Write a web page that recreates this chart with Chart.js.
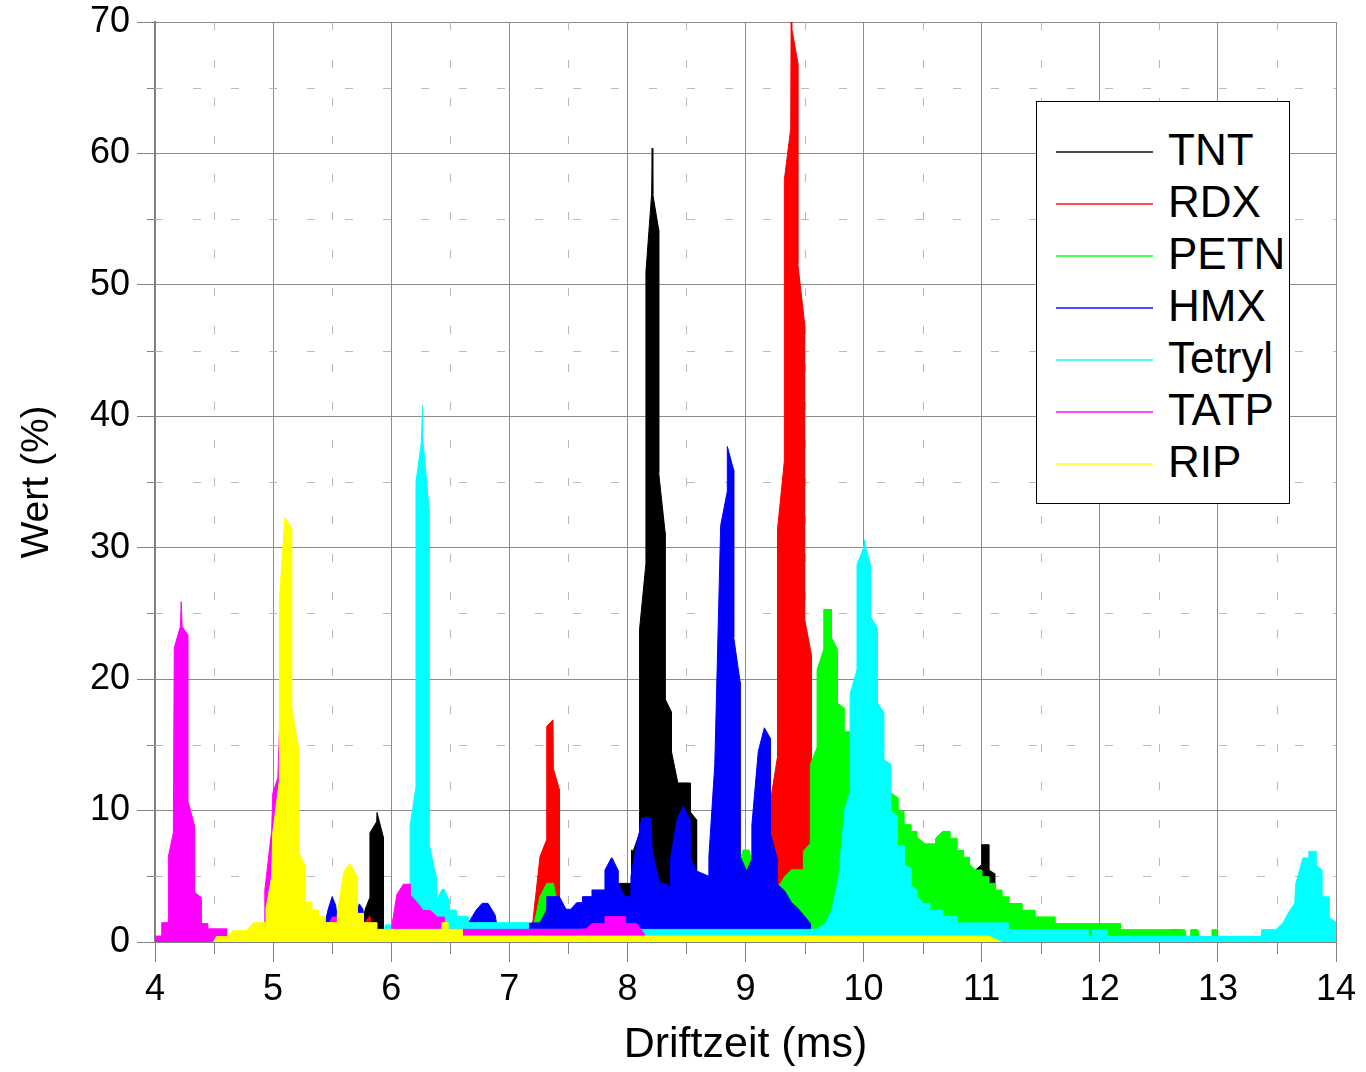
<!DOCTYPE html>
<html><head><meta charset="utf-8">
<script src="https://cdn.jsdelivr.net/npm/chart.js@4.4.1/dist/chart.umd.min.js"></script>
<style>
html,body{margin:0;padding:0;background:#fff;}
#wrap{position:relative;width:1366px;height:1072px;}
#legend{position:absolute;left:1036px;top:101px;width:254px;height:403px;box-sizing:border-box;border:1px solid #000;background:#fff;}
.sw{position:absolute;left:19px;width:97px;height:2px;opacity:0.7;}
.lb{position:absolute;left:131px;font-family:"Liberation Sans",Arial,sans-serif;font-size:44px;line-height:52px;color:#000;white-space:nowrap;}
</style></head><body>
<div id="wrap"><canvas id="c" width="1366" height="1072"></canvas><div id="legend"></div></div>
<script>
// ---- series names and colours ----
const names = ['TNT', 'RDX', 'PETN', 'HMX', 'Tetryl', 'TATP', 'RIP'];
const colors = ['#000000', '#ff0000', '#00ff00', '#0000ff', '#00ffff', '#ff00ff', '#ffff00'];

// ---- data (Driftzeit ms, Wert %) ----
const tntX = [5.72,5.78,5.82,5.82,5.877,5.88,5.933,5.933,5.98,7.85,7.9,8.035,8.035,8.049,8.103,8.103,8.157,8.157,8.205,8.21,8.215,8.265,8.265,8.319,8.319,8.373,8.373,8.427,8.532,8.532,8.586,8.586,8.7,9.0,10.9,10.947,11.0,11.0,11.06,11.06,11.11,11.11,11.15];
const tntY = [0,2.5,3.4,8.3,9.15,9.85,8.0,1.0,0.4,0.4,4.46,4.46,7.0,6.9,8.3,23.8,28.8,51.0,56.9,60.4,56.9,54.2,35.7,31.2,18.5,17.5,14.5,12.1,12.1,9.9,9.3,5.0,4.0,0.8,0.8,5.48,5.87,7.4,7.4,5.48,5.2,4.46,0];

const rdxX = [5.75,5.78,5.82,5.85,7.15,7.2,7.26,7.317,7.317,7.37,7.373,7.424,7.424,7.48,7.55,9.18,9.22,9.22,9.271,9.271,9.329,9.329,9.383,9.386,9.392,9.443,9.443,9.5,9.5,9.557,9.557,9.6,9.65,12.55,12.58,12.6,12.66,12.68];
const rdxY = [0,1.5,2.0,0,0,1.6,6.5,7.8,16.4,16.9,13.2,11.6,2.5,2.0,0.3,0.3,4.6,11.2,14.1,31.4,36.6,58.0,61.9,70,69.5,66.9,51.6,47.1,24.6,21.9,7.5,1.0,0.3,0.3,0,0.95,0.95,0];

const petnX = [7.15,7.2,7.26,7.317,7.373,7.43,7.5,8.9,8.95,8.98,9.03,9.08,9.15,9.3,9.334,9.39,9.49,9.49,9.549,9.549,9.606,9.606,9.663,9.663,9.726,9.726,9.777,9.777,9.834,9.834,9.886,9.95,10.1,10.2,10.23,10.29,10.29,10.34,10.34,10.4,10.4,10.45,10.45,10.52,10.61,10.61,10.67,10.73,10.73,10.79,10.79,10.845,10.845,10.895,10.895,10.947,11.0,11.0,11.06,11.06,11.117,11.117,11.17,11.17,11.23,11.23,11.34,11.34,11.45,11.45,11.62,11.62,12.175,12.175,12.72,12.74,12.77,12.77,12.83,12.85,12.95,12.95,12.99,13.0];
const petnY = [0,1.0,3.45,4.46,4.46,2.0,0.5,0.5,6.0,7.0,7.0,5.2,3.0,4.5,5.0,5.5,5.5,6.9,7.5,13.5,14.8,20.7,22.3,25.3,25.3,23.2,22.3,18.2,17.8,16.0,16.0,14.0,12.5,11.8,11.35,10.97,9.95,9.95,8.93,8.93,8.42,8.42,8.0,7.47,7.47,7.9,8.42,8.42,7.9,7.9,6.96,6.96,6.45,6.45,5.94,5.48,5.48,4.97,4.97,4.46,4.46,3.95,3.95,3.44,3.44,2.93,2.93,2.42,2.42,1.91,1.91,1.40,1.40,0.94,0.94,0,0,0.94,0.94,0,0,0.94,0.94,0];

const hmxX = [5.40,5.44,5.47,5.50,5.53,5.54,5.56,5.68,5.71,5.73,5.76,5.78,5.80,6.62,6.66,6.72,6.77,6.82,6.88,6.90,7.12,7.147,7.26,7.317,7.317,7.424,7.48,7.52,7.57,7.62,7.62,7.70,7.70,7.81,7.81,7.865,7.87,7.92,7.92,7.98,8.03,8.03,8.08,8.10,8.12,8.157,8.2,8.21,8.27,8.365,8.365,8.42,8.47,8.475,8.53,8.53,8.586,8.69,8.69,8.74,8.79,8.846,8.846,8.9,8.9,8.954,8.954,9.01,9.054,9.054,9.108,9.16,9.165,9.21,9.21,9.27,9.27,9.33,9.39,9.45,9.55,9.55,9.6];
const hmxY = [0,1.5,2.6,3.45,2.8,2.0,1.0,1.0,2.3,2.9,2.5,1.0,0.5,0.5,1.55,2.43,2.94,2.94,2.05,1.0,1.0,1.42,1.47,2.43,3.45,3.45,2.49,2.49,2.99,2.99,3.45,3.45,3.96,3.96,5.48,6.4,6.4,5.48,4.5,3.45,3.45,5.0,7.5,8.3,9.4,9.5,9.4,6.9,4.6,4.2,6.3,9.3,10.3,10.3,9.3,6.5,5.4,5.0,6.5,13.5,31.7,34.3,37.7,35.9,23.2,19.8,6.5,5.4,6.3,8.9,14.5,16.3,16.3,15.5,8.3,6.3,4.4,3.9,3.0,2.5,1.4,0.5,0];

const tetrylX = [5.93,5.95,6.14,6.16,6.16,6.21,6.21,6.255,6.265,6.27,6.32,6.32,6.38,6.38,6.43,6.45,6.49,6.49,6.55,6.55,6.65,6.65,7.16,7.16,9.6,9.675,9.73,9.79,9.84,9.886,9.886,9.944,9.944,10.0,10.01,10.02,10.057,10.057,10.114,10.114,10.17,10.17,10.23,10.23,10.286,10.286,10.343,10.343,10.4,10.4,10.45,10.45,10.51,10.56,10.56,10.67,10.67,10.79,10.79,11.225,11.225,11.9,11.9,11.94,11.94,12.06,12.06,13.37,13.37,13.49,13.55,13.61,13.65,13.66,13.72,13.77,13.77,13.83,13.83,13.88,13.88,13.94,13.94,14.0];
const tetrylY = [0,1.3,1.3,3.6,8.9,11.8,35.0,38.0,40.8,38.0,33.0,7.5,5.0,3.1,4.0,4.0,3.2,2.43,2.43,1.93,1.93,1.47,1.47,0.96,0.96,1.4,2.4,5.0,10.1,11.4,18.9,20.7,28.7,30.0,30.6,30.0,28.7,24.8,23.9,18.2,17.5,13.9,13.5,10.0,9.6,7.3,7.3,5.9,5.6,4.3,3.95,3.44,2.93,2.93,2.42,2.42,1.96,1.96,1.45,1.45,0.94,0.94,0.43,0.43,0.94,0.94,0.43,0.43,0.94,0.94,1.45,2.42,2.93,4.46,6.4,6.4,6.9,6.9,5.87,5.48,3.44,3.44,1.9,1.5];

const tatpX = [4.0,4.057,4.057,4.113,4.113,4.155,4.163,4.215,4.222,4.23,4.277,4.277,4.333,4.333,4.39,4.39,4.446,4.446,4.607,4.607,4.93,4.93,4.988,4.997,5.04,5.053,5.08,5.16,5.22,5.27,5.33,5.48,5.5,5.54,5.56,6.0,6.047,6.103,6.16,6.16,6.22,6.27,6.33,6.39,6.45,6.45,7.6,7.65,7.70,7.81,7.81,7.98,7.98,8.08,8.15,8.2];
const tatpY = [0.45,0.45,1.47,1.47,6.5,8.3,22.4,24.0,25.9,24.0,23.4,10.8,8.9,3.8,3.4,1.4,1.4,1.0,1.0,0,0,3.96,8.5,11.3,12.5,15.9,16.5,10,4,2,1.5,1.5,1.9,1.9,0.9,0.9,3.6,4.4,4.4,3.6,3.0,2.4,2.4,1.9,1.9,0.96,0.96,1.0,1.4,1.4,1.93,1.93,1.4,1.4,0.5,0];

const ripX = [4.494,4.52,4.607,4.663,4.776,4.832,4.94,4.94,4.988,4.997,5.053,5.053,5.1,5.157,5.157,5.213,5.213,5.27,5.27,5.327,5.327,5.383,5.383,5.44,5.44,5.544,5.544,5.6,5.648,5.655,5.713,5.713,5.764,5.764,5.877,5.877,6.43,6.43,6.48,6.48,6.6,6.6,11.06,11.17];
const ripY = [0,0.41,0.41,0.86,0.86,1.47,1.47,2.56,4.97,8.3,12.3,26.0,32.3,31.5,17.9,15.0,6.9,5.86,3.0,3.0,2.43,2.43,1.93,1.93,1.47,1.47,2.2,5.35,5.93,5.93,4.97,2.18,2.18,1.47,1.47,0.96,0.96,1.47,1.47,0.96,0.96,0.45,0.45,0];

const seriesX = [tntX, rdxX, petnX, hmxX, tetrylX, tatpX, ripX];
const seriesY = [tntY, rdxY, petnY, hmxY, tetrylY, tatpY, ripY];

// ---- axis definitions ----
const xMin = 4, xMax = 14, xStep = 1, xMinorStep = 0.5;
const yMin = 0, yMax = 70, yStep = 10, yMinorStep = 5;
const xTitle = 'Driftzeit (ms)';
const yTitle = 'Wert (%)';

const datasets = names.map((n, i) => ({
  label: n,
  data: seriesX[i].map((x, j) => ({x: x, y: seriesY[i][j]})),
  borderColor: colors[i],
  backgroundColor: colors[i],
  borderWidth: 1,
  pointRadius: 0,
  fill: 'origin',
  tension: 0,
  order: names.length - i
}));

const minorGrid = {
  id: 'minorGrid',
  beforeDatasetsDraw(chart) {
    const {ctx, chartArea: a, scales} = chart;
    const xs = scales.x, ys = scales.y;
    ctx.save();
    ctx.lineWidth = 1;
    ctx.strokeStyle = '#b8b8b8';
    ctx.setLineDash([8, 30]);
    for (let v = xMin + xMinorStep; v < xMax; v += xStep) {
      const p = Math.round(xs.getPixelForValue(v)) + 0.5;
      ctx.beginPath(); ctx.moveTo(p, a.bottom); ctx.lineTo(p, a.top); ctx.stroke();
    }
    for (let v = yMin + yMinorStep; v < yMax; v += yStep) {
      const p = Math.round(ys.getPixelForValue(v)) + 0.5;
      ctx.beginPath(); ctx.moveTo(a.left, p); ctx.lineTo(a.right, p); ctx.stroke();
    }
    ctx.setLineDash([]);
    ctx.strokeStyle = '#808080';
    for (let v = xMin + xMinorStep; v < xMax; v += xStep) {
      const p = Math.round(xs.getPixelForValue(v)) + 0.5;
      ctx.beginPath(); ctx.moveTo(p, a.bottom); ctx.lineTo(p, a.bottom + 12); ctx.stroke();
    }
    for (let v = yMin + yMinorStep; v < yMax; v += yStep) {
      const p = Math.round(ys.getPixelForValue(v)) + 0.5;
      ctx.beginPath(); ctx.moveTo(a.left - 8, p); ctx.lineTo(a.left, p); ctx.stroke();
    }
    ctx.restore();
  }
};

const chart = new Chart(document.getElementById('c'), {
  type: 'line',
  data: {datasets: datasets},
  options: {
    responsive: false,
    animation: false,
    devicePixelRatio: 1,
    layout: {padding: {left: 0, top: 22, right: 30, bottom: 0}},
    plugins: {legend: {display: false}, tooltip: {enabled: false}},
    scales: {
      x: {
        type: 'linear', min: xMin, max: xMax,
        ticks: {stepSize: xStep, autoSkip: false, maxRotation: 0, padding: 6, color: '#000',
          font: {family: '"Liberation Sans Narrow", "Liberation Sans", Arial, sans-serif', size: 36}},
        grid: {color: '#8c8c8c', lineWidth: 1, tickLength: 20, tickColor: '#808080'},
        border: {color: '#808080', width: 1},
        title: {display: true, text: xTitle, color: '#000',
          font: {family: '"Liberation Sans", Arial, sans-serif', size: 43}, padding: {top: 0, bottom: 1}},
        afterFit(s) { s.height = 130; }
      },
      y: {
        type: 'linear', min: yMin, max: yMax,
        ticks: {stepSize: yStep, padding: 7, color: '#000',
          font: {family: '"Liberation Sans", Arial, sans-serif', size: 36, lineHeight: 0.8}},
        grid: {color: '#8c8c8c', lineWidth: 1, tickLength: 18, tickColor: '#808080'},
        border: {color: '#808080', width: 2},
        title: {display: true, text: yTitle, color: '#000',
          font: {family: '"Liberation Sans", Arial, sans-serif', size: 39}, padding: {top: 14, bottom: 0}},
        afterFit(s) { s.width = 155; }
      }
    }
  },
  plugins: [minorGrid]
});

// ---- legend (HTML, built from the chart's datasets) ----
const leg = document.getElementById('legend');
chart.data.datasets.forEach((d, i) => {
  const sw = document.createElement('div');
  sw.className = 'sw';
  sw.style.top = (49 + 52 * i) + 'px';
  sw.style.background = d.borderColor;
  leg.appendChild(sw);
  const lb = document.createElement('div');
  lb.className = 'lb';
  lb.style.top = (22 + 52 * i) + 'px';
  lb.textContent = d.label;
  leg.appendChild(lb);
});
</script></body></html>
